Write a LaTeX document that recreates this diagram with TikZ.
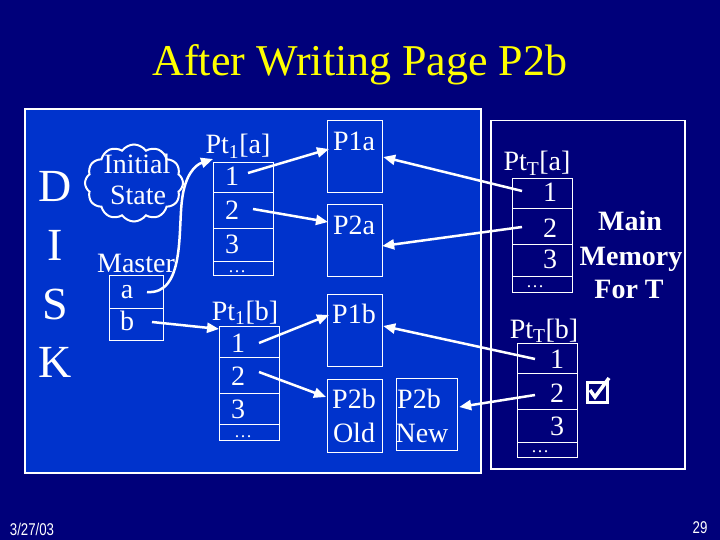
\documentclass[tikz,border=0pt]{standalone}
\usepackage{fontspec}
\setmainfont{Liberation Serif}
\newfontfamily\footfont{Liberation Sans}
\usetikzlibrary{shapes.symbols,arrows.meta,calc}
\definecolor{bgnavy}{RGB}{0,0,122}
\definecolor{diskblue}{RGB}{0,51,204}
\definecolor{titleyellow}{RGB}{255,255,0}
\begin{document}
\begin{tikzpicture}[x=1pt,y=-1pt,
  txt/.style={text=white, font=\fontsize{28}{30}\selectfont, inner sep=0pt, anchor=base},
  dots/.style={text=white, font=\fontsize{18}{20}\selectfont, inner sep=0pt, anchor=base},
  bigletter/.style={text=white, font=\fontsize{46}{50}\selectfont, inner sep=0pt, anchor=base},
  boldtxt/.style={text=white, font=\fontsize{28}{30}\selectfont\bfseries, inner sep=0pt, anchor=base},
  cell/.style={draw=white, line width=1.2pt, inner sep=0pt, anchor=north west, minimum width=60pt},
  pagebox/.style={draw=white, line width=1.2pt, inner sep=0pt, anchor=north west, minimum width=55pt, minimum height=72pt},
  ptr/.style={draw=white, line width=2.5pt, -{Triangle[length=12pt,width=10pt]}},
  foot/.style={text=white, font=\footfont\fontsize{17}{18}\selectfont, inner sep=0pt, anchor=base, xscale=0.78}
]
\fill[bgnavy] (0,0) rectangle (720,540);
\useasboundingbox (0,0) rectangle (720,540);

% containers
\node[draw=white, fill=diskblue, line width=2pt, inner sep=0pt, anchor=north west,
      minimum width=456pt, minimum height=364pt] (disk) at (24,108) {};
\node[draw=white, line width=1.5pt, inner sep=0pt, anchor=north west,
      minimum width=194pt, minimum height=348pt] (mem) at (490,120) {};

% title
\node[text=titleyellow, font=\fontsize{44}{48}\selectfont, inner sep=0pt, anchor=base] (title) at (360,76) {After Writing Page P2b};

% DISK
\node[bigletter] (dD) at (55,202) {D};
\node[bigletter] (dI) at (55,260) {I};
\node[bigletter] (dS) at (55,319) {S};
\node[bigletter] (dK) at (55,377) {K};

% cloud
\node[cloud, draw=white, line width=2pt, cloud puffs=12, cloud puff arc=110, aspect=1.3,
      minimum width=98pt, minimum height=77pt] (cloud) at (134,183) {};
\node[txt] (initial) at (137,174) {Initial};
\node[txt] (state) at (138,205) {State};

% master
\node[txt] (master) at (136,272) {Master};
\node[cell, minimum width=54pt, minimum height=33pt] (ma) at (109,275) {};
\node[cell, minimum width=54pt, minimum height=32pt] (mb) at (109,308) {};
\node[txt] (mat) at (127,298) {a};
\node[txt] (mbt) at (127,330) {b};

% Pt1[a]
\node[txt] (pal) at (238,154) {Pt\textsubscript{1}[a]};
\node[cell, minimum height=30pt] (pa1) at (213,162) {};
\node[cell, minimum height=36pt] (pa2) at (213,192) {};
\node[cell, minimum height=33pt] (pa3) at (213,228) {};
\node[cell, minimum height=14pt] (pa4) at (213,261) {};
\node[txt] (pa1t) at (232,186) {1};
\node[txt] (pa2t) at (232,219) {2};
\node[txt] (pa3t) at (232,253) {3};
\node[dots] (pa4t) at (237,272) {…};

% Pt1[b]
\node[txt] (pbl) at (245,320) {Pt\textsubscript{1}[b]};
\node[cell, minimum height=31pt] (pb1) at (219,326) {};
\node[cell, minimum height=36pt] (pb2) at (219,357) {};
\node[cell, minimum height=31pt] (pb3) at (219,393) {};
\node[cell, minimum height=16pt] (pb4) at (219,424) {};
\node[txt] (pb1t) at (238,352) {1};
\node[txt] (pb2t) at (238,385) {2};
\node[txt] (pb3t) at (238,418) {3};
\node[dots] (pb4t) at (243,437) {…};

% pages on disk
\node[pagebox] (p1a) at (327,120) {};
\node[pagebox] (p2a) at (327,204) {};
\node[pagebox] (p1b) at (327,294) {};
\node[pagebox, minimum height=73pt] (p2bo) at (327,379) {};
\node[pagebox, minimum width=61pt] (p2bn) at (396,378) {};
\node[txt] (p1at) at (354,151) {P1a};
\node[txt] (p2at) at (354,234) {P2a};
\node[txt] (p1bt) at (354,323) {P1b};
\node[txt] (p2bot) at (354,408) {P2b};
\node[txt] (p2bot2) at (354,442) {Old};
\node[txt] (p2bnt) at (419,408) {P2b};
\node[txt] (p2bnt2) at (422,442) {New};

% PtT[a]
\node[txt] (tal) at (537,171) {Pt\textsubscript{T}[a]};
\node[cell, minimum height=30pt] (ta1) at (512,178) {};
\node[cell, minimum height=36pt] (ta2) at (512,208) {};
\node[cell, minimum height=32pt] (ta3) at (512,244) {};
\node[cell, minimum height=16pt] (ta4) at (512,276) {};
\node[txt] (ta1t) at (550,202) {1};
\node[txt] (ta2t) at (550,237) {2};
\node[txt] (ta3t) at (550,268) {3};
\node[dots] (ta4t) at (535,287) {…};

% PtT[b]
\node[txt] (tbl) at (544,338) {Pt\textsubscript{T}[b]};
\node[cell, minimum height=30pt] (tb1) at (517,343) {};
\node[cell, minimum height=36pt] (tb2) at (517,373) {};
\node[cell, minimum height=33pt] (tb3) at (517,409) {};
\node[cell, minimum height=15pt] (tb4) at (517,442) {};
\node[txt] (tb1t) at (557,368) {1};
\node[txt] (tb2t) at (557,402) {2};
\node[txt] (tb3t) at (557,435) {3};
\node[dots] (tb4t) at (540,452) {…};

% Main Memory For T
\node[boldtxt] (mm1) at (630,230) {Main};
\node[boldtxt] (mm2) at (631,265) {Memory};
\node[boldtxt] (mm3) at (629,298) {For T};

% check box
\node[draw=white, line width=2.5pt, inner sep=0pt, minimum width=20pt, minimum height=20pt, anchor=north west] (chk) at (586,381) {};
\draw[white, line width=3.5pt, line join=miter] ($(chk.north west)+(4,9)$) -- ($(chk.north west)+(9,16)$) -- ($(chk.north west)+(23,-3)$);

% connectors
\draw[ptr] ($(ma.north west)+(38,17)$) .. controls ($(ma.north west)+(76,20)$) and ($(ma.north west)+(69,-45)$) .. ($(ma.north west)+(73,-75)$)
  .. controls ($(ma.north west)+(76,-100)$) and ($(ma.north west)+(86,-110)$) .. ($(pa1.north west)+(0,-3)$);
\draw[ptr] ($(mb.north west)+(43,14)$) -- ($(pb1.north west)+(0,3)$);
\draw[ptr] ($(pa1.north west)+(35,11)$) -- ($(p1a.north west)+(2,29)$);
\draw[ptr] ($(pa2.north west)+(40,17)$) -- ($(p2a.north west)+(1,18)$);
\draw[ptr] ($(pb1.north west)+(40,17)$) -- ($(p1b.north west)+(2,21)$);
\draw[ptr] ($(pb2.north west)+(40,15)$) -- ($(p2bo.north west)+(-1,18)$);
\draw[ptr] ($(ta1.north west)+(10,13)$) -- ($(p1a.north east)+(0,37)$);
\draw[ptr] ($(ta2.north west)+(10,19)$) -- ($(p2a.north east)+(-1,42)$);
\draw[ptr] ($(tb1.north west)+(18,16)$) -- ($(p1b.north east)+(0,32)$);
\draw[ptr] ($(tb2.north west)+(18,22)$) -- ($(p2bn.north east)+(1,29)$);

% footer
\node[foot] (date) at (32,535) {3/27/03};
\node[foot] (pagenum) at (700,533) {29};
\end{tikzpicture}
\end{document}
